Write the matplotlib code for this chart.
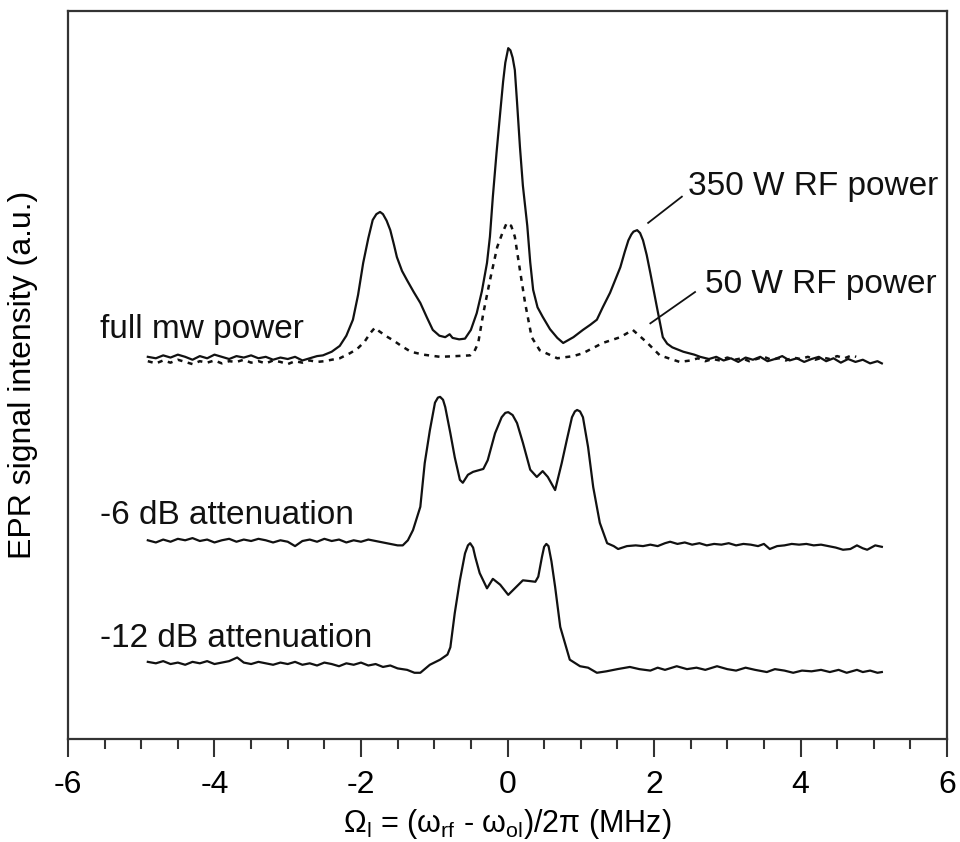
import numpy as np
import matplotlib
matplotlib.use("Agg")
import matplotlib.pyplot as plt
from matplotlib.ticker import MultipleLocator

plt.rcParams['font.family'] = ['Liberation Sans', 'DejaVu Sans']
plt.rcParams['mathtext.fontset'] = 'custom'
plt.rcParams['mathtext.rm'] = 'Liberation Sans'

# trace 350 W RF power, full mw power (solid)
x_350 = [-4.91, -4.80, -4.70, -4.60, -4.50, -4.40, -4.30, -4.20, -4.10, -4.00,
         -3.90, -3.80, -3.70, -3.60, -3.50, -3.40, -3.30, -3.20, -3.10, -3.00,
         -2.90, -2.80, -2.70, -2.60, -2.52, -2.40, -2.29, -2.20, -2.11, -2.04,
         -1.97, -1.90, -1.84, -1.79, -1.74, -1.70, -1.65, -1.60, -1.55, -1.51,
         -1.44, -1.37, -1.28, -1.19, -1.10, -1.02, -0.93, -0.85, -0.79, -0.75,
         -0.66, -0.58, -0.50, -0.42, -0.35, -0.28, -0.24, -0.20, -0.15, -0.10,
         -0.06, -0.03, 0.01, 0.04, 0.07, 0.10, 0.13, 0.17, 0.21, 0.27,
         0.31, 0.35, 0.41, 0.48, 0.58, 0.68, 0.76, 0.90, 1.03, 1.13,
         1.22, 1.30, 1.40, 1.54, 1.60, 1.65, 1.69, 1.72, 1.77, 1.81,
         1.85, 1.90, 1.95, 2.04, 2.12, 2.18, 2.25, 2.40, 2.55, 2.63,
         2.75, 2.85, 2.95, 3.05, 3.15, 3.25, 3.35, 3.45, 3.55, 3.65,
         3.75, 3.85, 3.95, 4.05, 4.15, 4.25, 4.35, 4.45, 4.55, 4.65,
         4.75, 4.85, 4.95, 5.05, 5.11]
y_350 = [52.5, 52.3, 52.7, 52.4, 52.8, 52.5, 52.1, 52.6, 52.3, 52.8,
         52.5, 52.2, 52.6, 52.4, 52.7, 52.3, 52.5, 52.1, 52.4, 52.2,
         52.5, 52.0, 52.3, 52.6, 52.7, 53.2, 54.0, 55.4, 57.6, 61.0,
         65.4, 68.8, 71.3, 72.1, 72.4, 72.1, 71.2, 69.9, 67.9, 66.2,
         64.3, 63.0, 61.4, 59.9, 57.9, 56.2, 55.4, 55.2, 55.6, 55.1,
         54.9, 55.0, 56.2, 58.5, 61.5, 65.4, 69.0, 74.5, 80.5, 86.0,
         90.3, 92.9, 94.9, 94.6, 93.6, 91.9, 87.5, 81.3, 76.0, 70.5,
         65.5, 61.7, 59.3, 58.0, 56.3, 55.1, 54.4, 55.2, 56.2, 56.9,
         57.6, 59.3, 61.3, 64.8, 66.9, 68.5, 69.3, 69.7, 69.9, 69.5,
         68.5, 66.5, 64.0, 59.3, 55.2, 54.3, 53.8, 53.2, 52.8, 52.5,
         52.2, 52.5, 52.0, 52.3, 51.8, 52.4, 52.1, 52.5, 51.9, 52.2,
         52.6, 52.0, 52.3, 51.8, 52.2, 52.5, 51.9, 52.3, 51.7, 52.2,
         51.8, 52.1, 51.6, 51.9, 51.6]

# trace 50 W RF power, full mw power (dashed)
x_50 = [-4.91, -4.80, -4.70, -4.60, -4.50, -4.40, -4.30, -4.20, -4.10, -4.00,
        -3.90, -3.80, -3.70, -3.60, -3.50, -3.40, -3.30, -3.20, -3.10, -3.00,
        -2.90, -2.80, -2.70, -2.60, -2.50, -2.40, -2.29, -2.15, -2.05, -1.95,
        -1.87, -1.81, -1.75, -1.65, -1.55, -1.45, -1.32, -1.15, -0.92, -0.70,
        -0.51, -0.45, -0.40, -0.33, -0.24, -0.14, -0.07, -0.01, 0.05, 0.10,
        0.17, 0.24, 0.33, 0.44, 0.68, 0.90, 1.03, 1.30, 1.54, 1.71,
        1.90, 2.08, 2.35, 2.50, 2.60, 2.70, 2.80, 2.90, 3.00, 3.10,
        3.20, 3.30, 3.40, 3.50, 3.60, 3.70, 3.80, 3.90, 4.00, 4.10,
        4.20, 4.30, 4.40, 4.50, 4.60, 4.70, 4.76]
y_50 = [51.9, 51.6, 52.0, 51.7, 52.1, 51.8, 51.5, 51.9, 51.7, 52.0,
        51.6, 51.9, 51.8, 52.1, 51.7, 51.9, 51.6, 52.0, 51.8, 51.5,
        51.9, 51.7, 52.0, 51.8, 51.9, 52.1, 52.3, 53.0, 53.6, 54.6,
        55.8, 56.5, 56.0, 55.3, 54.7, 54.0, 53.2, 52.8, 52.5, 52.6,
        52.7, 53.3, 54.4, 58.5, 63.0, 67.6, 69.5, 70.9, 70.5, 69.0,
        64.4, 59.9, 55.2, 53.4, 52.3, 52.6, 53.0, 54.4, 55.2, 56.2,
        54.5, 52.7, 51.8, 52.0, 52.3, 51.9, 52.2, 52.0, 52.4, 52.1,
        52.3, 51.9, 52.2, 52.5, 52.1, 52.3, 52.0, 52.4, 52.2, 52.5,
        52.1, 52.4, 52.2, 52.6, 52.3, 52.7, 52.5]

# -6 dB attenuation
x_6db = [-4.91, -4.80, -4.70, -4.60, -4.50, -4.40, -4.30, -4.20, -4.10, -4.00,
         -3.90, -3.80, -3.70, -3.60, -3.50, -3.40, -3.30, -3.20, -3.10, -3.00,
         -2.90, -2.80, -2.70, -2.60, -2.50, -2.40, -2.30, -2.20, -2.10, -2.00,
         -1.90, -1.80, -1.70, -1.60, -1.50, -1.43, -1.36, -1.29, -1.19, -1.13,
         -1.06, -0.99, -0.95, -0.92, -0.88, -0.85, -0.78, -0.72, -0.65, -0.61,
         -0.54, -0.47, -0.33, -0.27, -0.17, -0.08, -0.03, 0.01, 0.07, 0.13,
         0.21, 0.31, 0.40, 0.48, 0.55, 0.65, 0.74, 0.81, 0.88, 0.92,
         0.95, 0.99, 1.03, 1.10, 1.17, 1.26, 1.36, 1.45, 1.51, 1.63,
         1.75, 1.85, 1.95, 2.05, 2.15, 2.22, 2.32, 2.42, 2.52, 2.62,
         2.72, 2.82, 2.92, 3.02, 3.12, 3.22, 3.32, 3.42, 3.50, 3.58,
         3.68, 3.78, 3.88, 3.98, 4.08, 4.18, 4.28, 4.38, 4.48, 4.58,
         4.68, 4.77, 4.85, 4.91, 5.02, 5.11]
y_6db = [27.3, 27.0, 27.4, 27.1, 27.5, 27.3, 27.6, 27.2, 27.4, 27.0,
         27.3, 27.5, 27.1, 27.4, 27.2, 27.5, 27.3, 27.0, 27.3, 27.1,
         26.5, 27.2, 27.4, 27.1, 27.5, 27.2, 27.4, 27.0, 27.3, 27.1,
         27.4, 27.2, 27.0, 26.8, 26.6, 26.6, 27.3, 28.7, 31.9, 37.9,
         42.4, 46.2, 46.9, 47.0, 46.6, 45.6, 42.0, 38.7, 35.6, 35.2,
         36.3, 36.7, 37.1, 38.3, 42.0, 44.2, 44.8, 44.9, 44.5, 43.4,
         40.7, 37.0, 36.0, 36.8, 36.0, 34.2, 37.9, 41.1, 44.2, 45.0,
         45.2, 45.0, 44.2, 40.1, 34.6, 29.7, 26.9, 26.5, 26.1, 26.5,
         26.6, 26.5, 26.7, 26.5, 26.9, 27.1, 26.8, 27.0, 26.7, 26.9,
         26.6, 26.8, 26.7, 26.9, 26.6, 26.8, 26.7, 26.5, 26.8, 26.1,
         26.5, 26.6, 26.8, 26.7, 26.8, 26.6, 26.7, 26.5, 26.3, 26.0,
         26.1, 26.6, 26.2, 26.0, 26.6, 26.4]

# -12 dB attenuation
x_12db = [-4.91, -4.80, -4.70, -4.60, -4.50, -4.40, -4.30, -4.20, -4.10, -4.00,
          -3.90, -3.80, -3.69, -3.60, -3.50, -3.40, -3.30, -3.20, -3.10, -3.00,
          -2.90, -2.80, -2.70, -2.60, -2.50, -2.40, -2.30, -2.20, -2.10, -2.00,
          -1.90, -1.80, -1.70, -1.60, -1.50, -1.37, -1.27, -1.19, -1.06, -0.92,
          -0.82, -0.78, -0.72, -0.65, -0.58, -0.54, -0.51, -0.47, -0.44, -0.38,
          -0.28, -0.20, -0.10, 0.01, 0.10, 0.21, 0.30, 0.38, 0.42, 0.47,
          0.50, 0.53, 0.56, 0.60, 0.65, 0.72, 0.85, 0.99, 1.10, 1.22,
          1.35, 1.50, 1.67, 1.80, 1.95, 2.05, 2.15, 2.31, 2.45, 2.58,
          2.70, 2.86, 3.00, 3.12, 3.25, 3.38, 3.54, 3.65, 3.78, 3.90,
          4.02, 4.15, 4.28, 4.40, 4.52, 4.63, 4.77, 4.85, 4.95, 5.05,
          5.11]
y_12db = [10.6, 10.4, 10.7, 10.3, 10.5, 10.2, 10.6, 10.4, 10.7, 10.3,
          10.5, 10.7, 11.2, 10.5, 10.3, 10.6, 10.4, 10.2, 10.5, 10.3,
          10.6, 10.2, 10.4, 10.1, 10.5, 10.3, 10.0, 10.4, 10.2, 10.5,
          10.1, 10.3, 9.9, 10.1, 9.7, 9.5, 9.1, 9.1, 10.2, 10.9,
          11.6, 12.6, 17.3, 21.8, 25.5, 26.6, 26.9, 26.3, 25.0, 22.8,
          20.7, 22.0, 21.2, 19.8, 20.7, 21.8, 21.7, 21.6, 22.3, 25.0,
          26.4, 26.8, 26.5, 24.4, 20.9, 15.4, 10.9, 10.0, 9.8, 9.1,
          9.3, 9.6, 9.9, 9.6, 9.4, 9.8, 9.5, 10.0, 9.6, 9.8,
          9.5, 10.0, 9.6, 9.4, 9.8, 9.5, 9.2, 9.6, 9.4, 9.1,
          9.4, 9.3, 9.5, 9.2, 9.5, 9.1, 9.5, 9.2, 9.4, 9.1,
          9.2]

trace_labels = ['full mw power', '-6 dB attenuation', '-12 dB attenuation']
trace_label_y = [55.1, 29.5, 12.6]
power_labels = ['350 W RF power', '50 W RF power']
power_label_xy = [(2.46, 74.7), (2.70, 61.3)]
leader_lines = [((1.92, 70.9), (2.38, 74.5)), ((1.95, 57.1), (2.56, 61.4))]

fig = plt.figure(figsize=(9.6, 8.42), dpi=100)
ax = fig.add_axes([0.0708, 0.1223, 0.9157, 0.8646])

ink = '#111111'
ax.plot(x_350, y_350, color=ink, lw=1.6)
ax.plot(x_50, y_50, color=ink, lw=1.8, ls=(0, (2.0, 2.2)))
ax.plot(x_6db, y_6db, color=ink, lw=1.6)
ax.plot(x_12db, y_12db, color=ink, lw=1.6)

for lab, ty in zip(trace_labels, trace_label_y):
    ax.text(-5.56, ty, lab, fontsize=24, color=ink, va='baseline', ha='left')
for lab, (tx, ty) in zip(power_labels, power_label_xy):
    ax.text(tx, ty, lab, fontsize=24, color=ink, va='baseline', ha='left')
for (p0, p1) in leader_lines:
    ax.plot([p0[0], p1[0]], [p0[1], p1[1]], color=ink, lw=1.3)

ax.set_xlim(-6, 6)
ax.set_ylim(0, 100)
ax.set_yticks([])
ax.xaxis.set_major_locator(MultipleLocator(2))
ax.xaxis.set_minor_locator(MultipleLocator(0.5))
ax.tick_params(axis='x', which='major', direction='out', length=13, width=1.5,
               color='#333333', labelsize=23, pad=9)
ax.tick_params(axis='x', which='minor', direction='out', length=7, width=1.5,
               color='#333333')
ax.set_xticklabels([f'{int(v)}' for v in ax.get_xticks()])
for sp in ax.spines.values():
    sp.set_linewidth(1.6)
    sp.set_color('#333333')

ax.set_xlabel('Ω$_\\mathregular{l}$ = (ω$_\\mathregular{rf}$ - ω$_\\mathregular{ol}$)/2π (MHz)',
              fontsize=22, labelpad=5)
ax.set_ylabel('EPR signal intensity (a.u.)', fontsize=23)
ax.yaxis.set_label_coords(-0.034, 0.5)

fig.savefig('out.png', dpi=100)
